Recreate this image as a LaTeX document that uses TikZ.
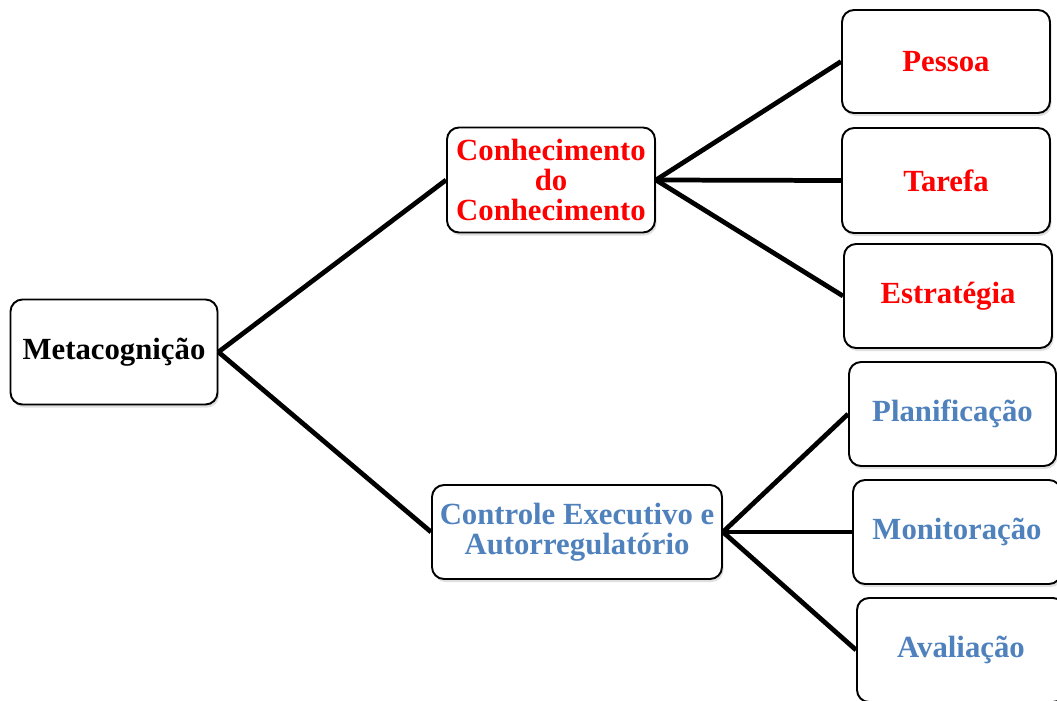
\documentclass[tikz,border=0pt]{standalone}
\usepackage{fontspec}
\setmainfont{Liberation Serif}
\usepackage{tikz}
\usetikzlibrary{positioning,shadows}
\usepackage{xcolor}
\definecolor{MCred}{HTML}{FF0000}
\definecolor{MCblue}{HTML}{4F81BD}

\begin{document}
\begin{tikzpicture}[
    box/.style={draw,line width=1.1pt,rounded corners=0.24cm,fill=white,align=center,
      minimum width=4.16cm,minimum height=2.08cm,
      font=\bfseries\fontsize{17.5}{17}\selectfont,
      drop shadow={opacity=0.25,shadow xshift=0.03cm,shadow yshift=-0.06cm}},
    blackbox/.style={box,text=black},
    redbox/.style={box,text=MCred},
    bluebox/.style={box,text=MCblue},
    link/.style={line width=2.7pt,black}
  ]
    \useasboundingbox (0,0) rectangle (21.14,-14);

    % ROOT
    \node[blackbox,minimum width=4.14cm,minimum height=2.1cm] (meta) at (2.28,-7.04) {Metacogni\c{c}\~ao};

    % SECOND LEVEL
    \node[redbox,minimum height=2.1cm] (conh) at (11.02,-3.6) {Conhecimento\\do\\Conhecimento};
    \node[bluebox,minimum width=5.8cm,minimum height=1.88cm] (ctrl) at (11.54,-10.64) {Controle Executivo e\\Autorregulat\'orio};

    % THIRD LEVEL
    \node[redbox,minimum height=2.06cm] (pessoa) at (18.92,-1.23) {Pessoa};
    \node[redbox,minimum height=2.1cm] (tarefa) at (18.92,-3.61) {Tarefa};
    \node[redbox] (estrat) at (18.96,-5.92) {Estrat\'egia};
    \node[bluebox,minimum width=4.14cm] (plan) at (19.05,-8.28) {Planifica\c{c}\~ao};
    \node[bluebox] (monit) at (19.14,-10.64) {Monitora\c{c}\~ao};
    \node[bluebox] (aval) at (19.22,-13.0) {Avalia\c{c}\~ao};

    % Links
    \draw[link] (meta.east) -- (conh.west);
    \draw[link] (meta.east) -- (ctrl.west);
    \draw[link] (conh.east) -- (pessoa.west);
    \draw[link] (conh.east) -- (tarefa.west);
    \draw[link] (conh.east) -- (estrat.west);
    \draw[link] (ctrl.east) -- (plan.west);
    \draw[link] (ctrl.east) -- (monit.west);
    \draw[link] (ctrl.east) -- (aval.west);
  \end{tikzpicture}
\end{document}
